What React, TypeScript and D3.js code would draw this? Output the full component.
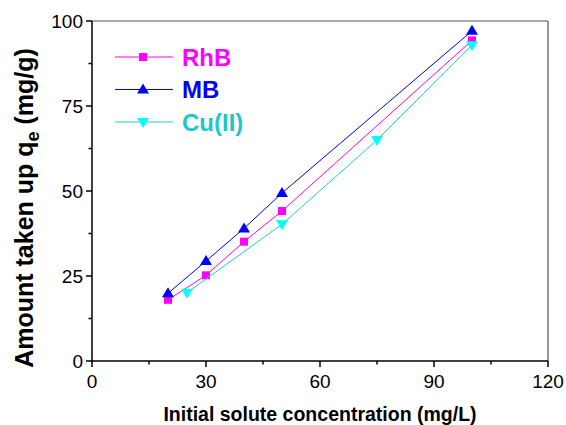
import React from "react";
import * as d3 from "d3";

const xTicks = [0, 30, 60, 90, 120];
const yTicks = [0, 25, 50, 75, 100];
const xMinor = [15, 45, 75, 105];
const yMinor = [12.5, 37.5, 62.5, 87.5];

const rhbX = [20, 30, 40, 50, 100];
const rhbY = [18, 25.2, 35.1, 44.1, 94.3];
const mbX = [20, 30, 40, 50, 100];
const mbY = [19.9, 29.4, 39, 49.4, 97.1];
const cuX = [25, 50, 75, 100];
const cuY = [20.1, 40.2, 65, 92.9];

const seriesNames = ["RhB", "MB", "Cu(II)"];

export default function App() {
  const W = 566, H = 425;
  const L = 92, R = 548, T = 21, B = 361;
  const x = d3.scaleLinear().domain([0, 120]).range([L, R]);
  const y = d3.scaleLinear().domain([0, 100]).range([B, T]);
  const line = d3.line<[number, number]>().x(d => x(d[0])).y(d => y(d[1]));

  const series = [
    { name: seriesNames[0], xs: rhbX, ys: rhbY, line: "#FF00FF", fill: "#FF00FF", text: "#FF00FF", marker: "square" },
    { name: seriesNames[1], xs: mbX, ys: mbY, line: "#0000E0", fill: "#0000FF", text: "#0000FF", marker: "up" },
    { name: seriesNames[2], xs: cuX, ys: cuY, line: "#22CCCC", fill: "#00FFFF", text: "#1EC8C8", marker: "down" },
  ];

  const marker = (type: string, cx: number, cy: number, fill: string, key: any) => {
    if (type === "square") return <rect key={key} x={cx - 4} y={cy - 4} width={8} height={8} fill={fill} />;
    if (type === "up") return <path key={key} d={`M${cx},${cy - 6}L${cx + 6},${cy + 4}L${cx - 6},${cy + 4}Z`} fill={fill} />;
    return <path key={key} d={`M${cx},${cy + 6}L${cx + 6},${cy - 4}L${cx - 6},${cy - 4}Z`} fill={fill} />;
  };

  const font = "Liberation Sans, Arial, sans-serif";

  return (
    <svg width={W} height={H} style={{ position: "absolute", left: 0, top: 0, background: "#fff" }} fontFamily={font}>
      <rect x={0} y={0} width={W} height={H} fill="#fff" />
      {/* frame */}
      <line x1={L} y1={T} x2={R} y2={T} stroke="#555" strokeWidth={1.2} />
      <line x1={R} y1={T} x2={R} y2={B} stroke="#555" strokeWidth={1.2} />
      <line x1={L} y1={T} x2={L} y2={B} stroke="#000" strokeWidth={1.5} />
      <line x1={L} y1={B} x2={R} y2={B} stroke="#000" strokeWidth={1.5} />
      {xTicks.map(t => (
        <g key={"xt" + t}>
          <line x1={x(t)} x2={x(t)} y1={B} y2={B + 6} stroke="#000" strokeWidth={1.5} />
          <text x={x(t)} y={B + 27} textAnchor="middle" fontSize={19}>{t}</text>
        </g>
      ))}
      {xMinor.map(t => (
        <line key={"xm" + t} x1={x(t)} x2={x(t)} y1={B} y2={B + 3.5} stroke="#000" strokeWidth={1.5} />
      ))}
      {yTicks.map(t => (
        <g key={"yt" + t}>
          <line x1={L - 6} x2={L} y1={y(t)} y2={y(t)} stroke="#000" strokeWidth={1.5} />
          <text x={L - 9} y={y(t) + 7} textAnchor="end" fontSize={19}>{t}</text>
        </g>
      ))}
      {yMinor.map(t => (
        <line key={"ym" + t} x1={L - 3.5} x2={L} y1={y(t)} y2={y(t)} stroke="#000" strokeWidth={1.5} />
      ))}
      {series.map((s, i) => (
        <g key={"s" + i}>
          <path d={line(s.xs.map((v, j) => [v, s.ys[j]] as [number, number])) || ""} fill="none" stroke={s.line} strokeWidth={1} />
          {s.xs.map((v, j) => marker(s.marker, x(v), y(s.ys[j]), s.fill, j))}
        </g>
      ))}
      {/* legend */}
      {series.map((s, i) => {
        const ly = 57 + i * 32.5;
        return (
          <g key={"lg" + i}>
            <line x1={115} x2={173} y1={ly} y2={ly} stroke={s.line} strokeWidth={1} />
            {marker(s.marker, 143, ly, s.fill, "m")}
            <text x={182} y={ly + 8.5} fontSize={24} fontWeight="bold" fill={s.text}>{s.name}</text>
          </g>
        );
      })}
      <text x={320} y={421} textAnchor="middle" fontSize={19.5} fontWeight="bold">Initial solute concentration (mg/L)</text>
      <text transform={`translate(33,208) rotate(-90)`} textAnchor="middle" fontSize={25} fontWeight="bold">
        Amount taken up q<tspan fontSize={18} dy={6}>e</tspan><tspan dy={-6}> (mg/g)</tspan>
      </text>
    </svg>
  );
}
